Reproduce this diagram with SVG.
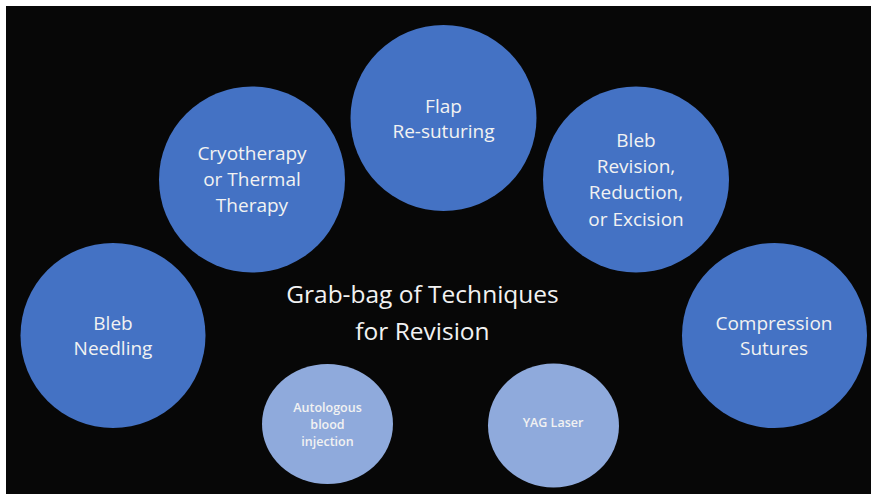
<svg xmlns="http://www.w3.org/2000/svg" width="871" height="494" viewBox="0 0 871 494">
<style>
.big{fill:#4472C4}
.small{fill:#8FAADC}
text{font-family:"Open Sans","Noto Sans","Liberation Sans",sans-serif;fill:#F2F2F2;text-anchor:middle}
.t{font-size:19px}
.s{font-size:12.5px;font-weight:600}
.title{font-size:24.5px}
</style>
<rect x="0" y="0" width="871" height="494" fill="#FFFFFF"/>
<rect x="6" y="6" width="865" height="488" fill="#070707"/>
<g id="connectors"></g>
<g id="flap">
<circle class="big" cx="443.5" cy="118" r="93"/>
<text class="t" x="443.5" y="113">Flap</text>
<text class="t" x="443.5" y="138">Re-suturing</text>
</g>
<g id="cryo">
<circle class="big" cx="252" cy="179.5" r="93"/>
<text class="t" x="252" y="160">Cryotherapy</text>
<text class="t" x="252" y="186">or Thermal</text>
<text class="t" x="252" y="212">Therapy</text>
</g>
<g id="revision">
<circle class="big" cx="636" cy="179.5" r="93"/>
<text class="t" x="636" y="147">Bleb</text>
<text class="t" x="636" y="173">Revision,</text>
<text class="t" x="636" y="199">Reduction,</text>
<text class="t" x="636" y="225.5">or Excision</text>
</g>
<g id="needling">
<circle class="big" cx="113" cy="335.5" r="92.5"/>
<text class="t" x="113" y="330">Bleb</text>
<text class="t" x="113" y="355">Needling</text>
</g>
<g id="compression">
<circle class="big" cx="774.5" cy="335.5" r="92.5"/>
<text class="t" x="774" y="330">Compression</text>
<text class="t" x="774" y="355">Sutures</text>
</g>
<g id="autologous">
<ellipse class="small" cx="327.5" cy="424" rx="65.5" ry="60"/>
<text class="s" x="327.5" y="412">Autologous</text>
<text class="s" x="327.5" y="429">blood</text>
<text class="s" x="327.5" y="446">injection</text>
</g>
<g id="yag">
<ellipse class="small" cx="553.5" cy="425.5" rx="65.5" ry="62"/>
<text class="s" x="553" y="427">YAG Laser</text>
</g>
<g id="title">
<text class="title" x="422.5" y="303">Grab-bag of Techniques</text>
<text class="title" x="422.5" y="340">for Revision</text>
</g>
</svg>
